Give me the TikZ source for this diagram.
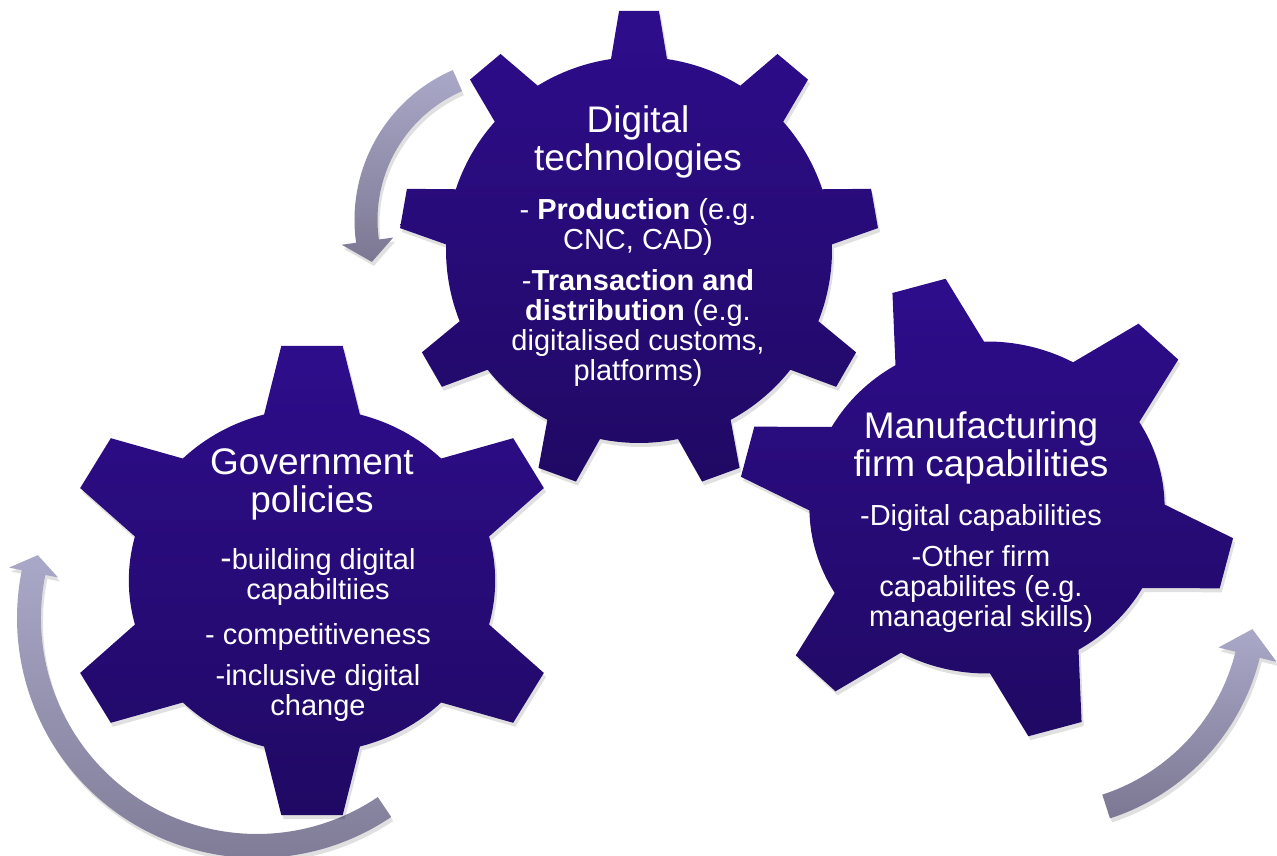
\documentclass[tikz,border=0pt]{standalone}
\usepackage{fontspec}
\setmainfont{Liberation Sans}
\usetikzlibrary{positioning}
\definecolor{geartop}{RGB}{46,13,139}
\definecolor{gearbottom}{RGB}{32,9,100}
\definecolor{arrowtop}{RGB}{170,168,200}
\definecolor{arrowbottom}{RGB}{124,120,147}
\tikzstyle{gearfill} = [top color=geartop, bottom color=gearbottom]
\tikzstyle{arrowfill} = [top color=arrowtop, bottom color=arrowbottom]
\tikzstyle{dropshadow} = [fill=black, opacity=0.12, xshift=2pt, yshift=-4pt]
\tikzstyle{geartitle} = [text=white, align=center, inner sep=0pt, font=\fontsize{37}{38}\selectfont]
\tikzstyle{geartext} = [text=white, align=center, inner sep=0pt, font=\fontsize{29}{30}\selectfont]
\newcommand{\gearwheel}[8]{%
  \pgfmathsetmacro{\gstep}{360/#2}
  \pgfmathsetmacro{\gbase}{asin(#7/#5)}
  \pgfmathsetmacro{\gtip}{atan(#6/#4)}
  \pgfmathtruncatemacro{\glast}{#2-1}
  \begin{scope}[#1]
    \path[#8] (#3-\gbase:#5)
      \foreach \k in {0,...,\glast} {
        -- ({#3+\k*\gstep-\gtip}:#4) -- ({#3+\k*\gstep+\gtip}:#4) -- ({#3+\k*\gstep+\gbase}:#5)
        arc[start angle={#3+\k*\gstep+\gbase}, end angle={#3+(\k+1)*\gstep-\gbase}, radius=#5]
      } -- cycle;
  \end{scope}}
\newcommand{\bentarrow}[8]{%
  \begin{scope}[shift={#1}]
    \path[#8] (#3:#2+#6) arc[start angle=#3, end angle=#4, radius=#2+#6]
      -- (#4:#2+#7) -- (#5:#2) -- (#4:#2-#7) -- (#4:#2-#6)
      arc[start angle=#4, end angle=#3, radius=#2-#6] -- cycle;
  \end{scope}}

\begin{document}
\begin{tikzpicture}[x=1pt, y=1pt]
    \useasboundingbox (0,0) rectangle (1277,856);

    \bentarrow{(518,636)}{152}{113.5}{188}{196}{11.5}{26}{dropshadow}
    \bentarrow{(518,636)}{152}{113.5}{188}{196}{11.5}{26}{arrowfill}
    \bentarrow{(257,238)}{228}{-56}{-191.5}{-196}{12}{25}{dropshadow}
    \bentarrow{(257,238)}{228}{-56}{-191.5}{-196}{12}{25}{arrowfill}
    \bentarrow{(1040,253)}{214}{-72}{-14}{-7}{12.5}{30}{dropshadow}
    \bentarrow{(1040,253)}{214}{-72}{-14}{-7}{12.5}{30}{arrowfill}

    \gearwheel{shift={(639,606)}}{9}{90}{240}{193}{20}{28}{dropshadow}
    \gearwheel{shift={(639,606)}}{9}{90}{240}{193}{20}{28}{gearfill}
    \gearwheel{shift={(312,275.5)}, xscale=1.065}{6}{90}{236.5}{172}{29}{45}{dropshadow}
    \gearwheel{shift={(312,275.5)}, xscale=1.065}{6}{90}{236.5}{172}{29}{45}{gearfill}
    \gearwheel{shift={(987,348.5)}, xscale=1.07}{6}{46}{232}{166}{26}{43}{dropshadow}
    \gearwheel{shift={(987,348.5)}, xscale=1.07}{6}{46}{232}{166}{26}{43}{gearfill}

    \node (digtitle) [geartitle, anchor=north] at (638,751) {Digital\\technologies};
    \node (digtext) [geartext, below=20pt of digtitle] {- \textbf{Production} (e.g.\\CNC, CAD)\\[11pt]-\textbf{Transaction and}\\\textbf{distribution} (e.g.\\digitalised customs,\\platforms)};

    \node (govtitle) [geartitle, anchor=north] at (312,408) {Government\\policies};
    \node (govtext) [geartext, below=28pt of govtitle, xshift=6pt] {{\fontsize{34}{30}\selectfont -}building digital\\capabiltiies\\[15pt]- competitiveness\\[11pt]-inclusive digital\\change};

    \node (mantitle) [geartitle, anchor=north] at (981,445) {Manufacturing\\firm capabilities};
    \node (mantext) [geartext, below=20pt of mantitle] {-Digital capabilities\\[11pt]-Other firm\\capabilites (e.g.\\managerial skills)};
\end{tikzpicture}
\end{document}
